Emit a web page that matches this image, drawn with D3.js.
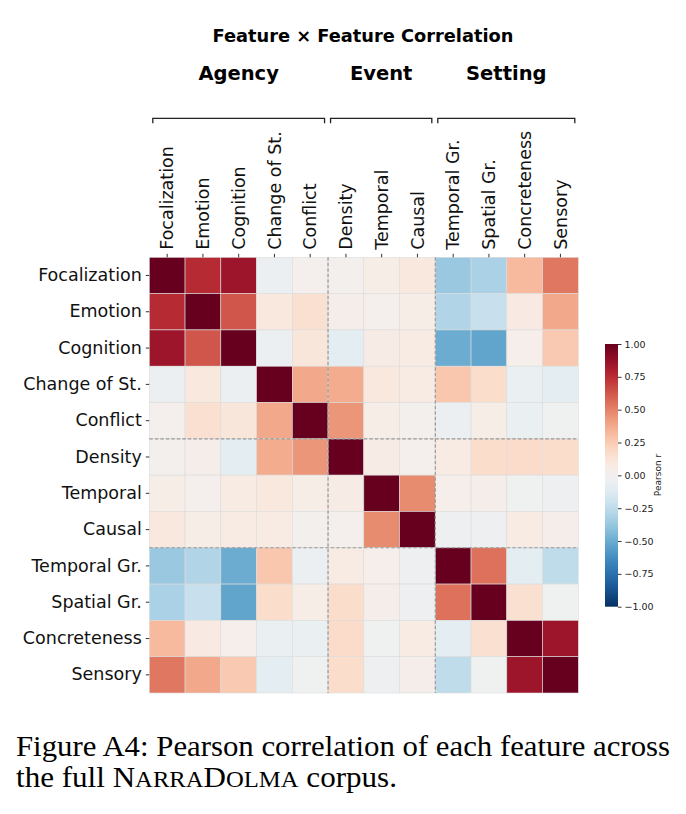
<!DOCTYPE html>
<html><head><meta charset="utf-8">
<script src="https://cdn.jsdelivr.net/npm/d3@7"></script>
<style>body{margin:0;background:#fff}svg{display:block}</style>
</head><body>
<script>
const features = ["Focalization","Emotion","Cognition","Change of St.","Conflict","Density","Temporal","Causal","Temporal Gr.","Spatial Gr.","Concreteness","Sensory"];
const groups = [
  {name:"Agency", start:0, end:4},
  {name:"Event", start:5, end:7},
  {name:"Setting", start:8, end:11}
];
const corr = [
  [ 1.00, 0.76, 0.85,-0.05, 0.02, 0.01, 0.05, 0.10,-0.37,-0.32, 0.32, 0.53],
  [ 0.76, 1.00, 0.63, 0.10, 0.15, 0.04, 0.02, 0.05,-0.30,-0.22, 0.08, 0.38],
  [ 0.85, 0.63, 1.00,-0.05, 0.11,-0.10, 0.06, 0.07,-0.50,-0.53, 0.03, 0.26],
  [-0.05, 0.10,-0.05, 1.00, 0.38, 0.37, 0.10, 0.07, 0.27, 0.17,-0.06,-0.10],
  [ 0.02, 0.15, 0.11, 0.38, 1.00, 0.44, 0.05, 0.01,-0.05, 0.05,-0.06,-0.02],
  [ 0.01, 0.04,-0.10, 0.37, 0.44, 1.00, 0.06, 0.02, 0.07, 0.17, 0.18, 0.17],
  [ 0.05, 0.02, 0.07, 0.10, 0.05, 0.06, 1.00, 0.47, 0.03, 0.04,-0.02,-0.04],
  [ 0.10, 0.05, 0.07, 0.07, 0.01, 0.02, 0.47, 1.00,-0.04,-0.04, 0.07, 0.04],
  [-0.37,-0.30,-0.50, 0.27,-0.05, 0.07, 0.03,-0.04, 1.00, 0.55,-0.10,-0.25],
  [-0.32,-0.22,-0.53, 0.17, 0.05, 0.17, 0.04,-0.04, 0.55, 1.00, 0.15,-0.02],
  [ 0.32, 0.08, 0.03,-0.06,-0.06, 0.18,-0.02, 0.07,-0.10, 0.15, 1.00, 0.85],
  [ 0.53, 0.38, 0.26,-0.10,-0.02, 0.17,-0.04, 0.04,-0.25,-0.02, 0.85, 1.00]
];
const cbTicks = [1.00, 0.75, 0.50, 0.25, 0.00, -0.25, -0.50, -0.75, -1.00];
const titleText = "Feature × Feature Correlation";
const cbLabel = "Pearson r";

(function(){
const W = 686, H = 814;
const svg = d3.select("body").append("svg").attr("width", W).attr("height", H);

const gL = 149.3, gR = 578.3, gT = 257.3, gB = 693;
const x = d3.scaleBand().domain(features).range([gL, gR]);
const y = d3.scaleBand().domain(features).range([gT, gB]);
const color = v => d3.interpolateRdBu((1 - v) / 2);

const cells = [];
corr.forEach((row, i) => row.forEach((v, j) => cells.push({r: features[i], c: features[j], v})));

svg.append("g").selectAll("rect").data(cells).join("rect")
  .attr("x", d => x(d.c)).attr("y", d => y(d.r))
  .attr("width", x.bandwidth()).attr("height", y.bandwidth())
  .attr("fill", d => color(d.v))
  .attr("stroke", "#dcdcdc").attr("stroke-width", 0.6);

// group separators
const sep = svg.append("g").attr("stroke", "#999").attr("stroke-width", 1.2).attr("stroke-dasharray", "3.5,2");
groups.slice(1).forEach(g => {
  const xx = x(features[g.start]), yy = y(features[g.start]);
  sep.append("line").attr("x1", xx).attr("x2", xx).attr("y1", gT).attr("y2", gB);
  sep.append("line").attr("x1", gL).attr("x2", gR).attr("y1", yy).attr("y2", yy);
});

const font = "DejaVu Sans, sans-serif";
// row axis
const yAxis = svg.append("g").attr("transform", `translate(${gL},0)`)
  .call(d3.axisLeft(y).tickSize(3.5).tickPadding(4));
yAxis.select(".domain").remove();
yAxis.selectAll("text").attr("font-family", font).attr("font-size", 17.5).attr("fill", "#111");
yAxis.selectAll("line").attr("stroke", "#333");

// column axis
const xAxis = svg.append("g").attr("transform", `translate(0,${gT})`)
  .call(d3.axisTop(x).tickSize(3.5).tickPadding(4));
xAxis.select(".domain").remove();
xAxis.selectAll("line").attr("stroke", "#333");
xAxis.selectAll("text").attr("font-family", font).attr("font-size", 17.5).attr("fill", "#111")
  .attr("text-anchor", "start").attr("x", 0).attr("y", 0).attr("dy", "0.35em")
  .attr("transform", "translate(0,-7.5) rotate(-90)");

// title
svg.append("text").attr("x", 363).attr("y", 42).attr("text-anchor", "middle")
  .attr("font-family", font).attr("font-weight", "bold").attr("font-size", 17.8).attr("fill", "#000").text(titleText);

// group labels and brackets
const gb = svg.append("g");
groups.forEach((g, i) => {
  const x0 = x(features[g.start]) + (i === 0 ? 3.5 : 2.5);
  const x1 = x(features[g.end]) + x.bandwidth() - 3.5;
  const by = 118.3;
  gb.append("path").attr("d", `M${x0},${by+5}V${by}H${x1}V${by+5}`)
    .attr("fill", "none").attr("stroke", "#222").attr("stroke-width", 1.3);
  gb.append("text").attr("x", (x0 + x1) / 2).attr("y", 79.5).attr("text-anchor", "middle")
    .attr("font-family", font).attr("font-weight", "bold").attr("font-size", 19.5).attr("fill", "#000").text(g.name);
});

// colorbar
const cbx = 605, cbw = 13, cbt = 344, cbb = 606.7;
const cy = d3.scaleLinear().domain([-1, 1]).range([cbb, cbt]);
const defs = svg.append("defs");
const grad = defs.append("linearGradient").attr("id", "cbg").attr("x1", 0).attr("x2", 0).attr("y1", 1).attr("y2", 0);
d3.range(0, 1.0001, 0.02).forEach(t => grad.append("stop").attr("offset", t).attr("stop-color", color(-1 + 2 * t)));
svg.append("rect").attr("x", cbx).attr("y", cbt).attr("width", cbw).attr("height", cbb - cbt).attr("fill", "url(#cbg)");
const cbAxis = svg.append("g").attr("transform", `translate(${cbx + cbw},0)`)
  .call(d3.axisRight(cy).tickValues(cbTicks).tickSize(3.5).tickPadding(3)
    .tickFormat(v => (v < 0 ? "\u2212" : "") + Math.abs(v).toFixed(2)));
cbAxis.select(".domain").remove();
cbAxis.selectAll("line").attr("stroke", "#333");
cbAxis.selectAll("text").attr("font-family", font).attr("font-size", 9.5).attr("fill", "#222");
svg.append("text").attr("transform", `translate(661,475) rotate(-90)`).attr("text-anchor", "middle")
  .attr("font-family", font).attr("font-size", 9).attr("fill", "#222").text(cbLabel);

// caption
const serif = "Liberation Serif, Times New Roman, serif";
svg.append("text").attr("x", 16).attr("y", 755.5).attr("font-family", serif).attr("font-size", 29).attr("fill", "#000")
  .attr("textLength", 654).attr("lengthAdjust", "spacingAndGlyphs")
  .text("Figure A4: Pearson correlation of each feature across");
const cap2 = svg.append("text").attr("x", 16).attr("y", 786.5).attr("font-family", serif).attr("font-size", 29).attr("fill", "#000")
  .attr("textLength", 381).attr("lengthAdjust", "spacingAndGlyphs");
cap2.append("tspan").text("the full N");
cap2.append("tspan").attr("font-size", 23).text("ARRA");
cap2.append("tspan").text("D");
cap2.append("tspan").attr("font-size", 23).text("OLMA");
cap2.append("tspan").text(" corpus.");
})();
</script>
</body></html>
